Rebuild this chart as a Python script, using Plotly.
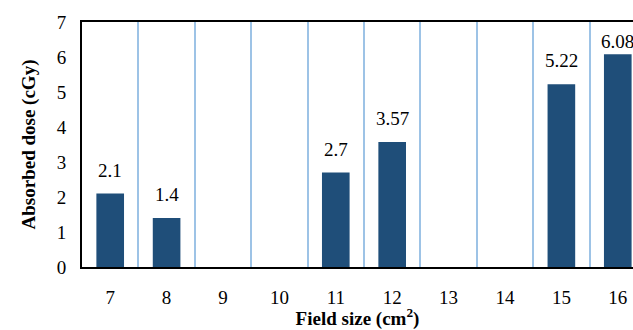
import plotly.graph_objects as go

field_sizes = [7, 8, 9, 10, 11, 12, 13, 14, 15, 16]
doses = [2.1, 1.4, 0, 0, 2.7, 3.57, 0, 0, 5.22, 6.08]
dose_labels = ["2.1", "1.4", "", "", "2.7", "3.57", "", "", "5.22", "6.08"]
y_ticks = [0, 1, 2, 3, 4, 5, 6, 7]

FONT = "Liberation Serif"
Y_MAX = 7

fig = go.Figure()
fig.add_trace(go.Bar(
    x=field_sizes, y=doses, width=0.49,
    marker=dict(color="#1F4E79", line=dict(width=0)),
    hoverinfo="skip",
))

for x, y, t in zip(field_sizes, doses, dose_labels):
    if not t:
        continue
    if y > Y_MAX - 1.2:
        # label kept inside the plot area, just below the top border
        fig.add_annotation(x=x, y=Y_MAX, text=t, showarrow=False,
                           yanchor="top", yshift=-7,
                           font=dict(family=FONT, size=19, color="black"))
    else:
        fig.add_annotation(x=x, y=y, text=t, showarrow=False,
                           yanchor="bottom", yshift=11,
                           font=dict(family=FONT, size=19, color="black"))

fig.update_layout(
    width=633, height=330,
    margin=dict(l=82, r=0, t=22, b=63),
    paper_bgcolor="white", plot_bgcolor="white",
    showlegend=False,
    font=dict(family=FONT, size=19, color="black"),
    xaxis=dict(
        range=[6.5, 16.27], automargin=False,
        tickvals=field_sizes, ticktext=[str(v) for v in field_sizes],
        showgrid=False, zeroline=False,
        showline=True, linecolor="black", linewidth=2, mirror=True,
        ticks="", ticklabelstandoff=12,
        minor=dict(tickvals=[v + 0.5 for v in field_sizes[:-1]],
                   showgrid=True, gridcolor="#9DC3E6", gridwidth=1.5, ticks=""),
        title=dict(text="<b>Field size (cm<sup>2</sup>)</b>", standoff=0,
                   font=dict(family=FONT, size=19)),
        tickfont=dict(family=FONT, size=19),
    ),
    yaxis=dict(
        range=[0, Y_MAX], tickvals=y_ticks, automargin=False,
        showgrid=False, zeroline=False,
        showline=True, linecolor="black", linewidth=2,
        ticks="", ticklabelstandoff=10,
        title=dict(text="<b>Absorbed dose (cGy)</b>", standoff=16,
                   font=dict(family=FONT, size=19)),
        tickfont=dict(family=FONT, size=19),
    ),
)

fig.write_html("out.html",
               config={"displayModeBar": False},
               post_script="document.body.style.margin='0';document.body.style.overflow='hidden';")
